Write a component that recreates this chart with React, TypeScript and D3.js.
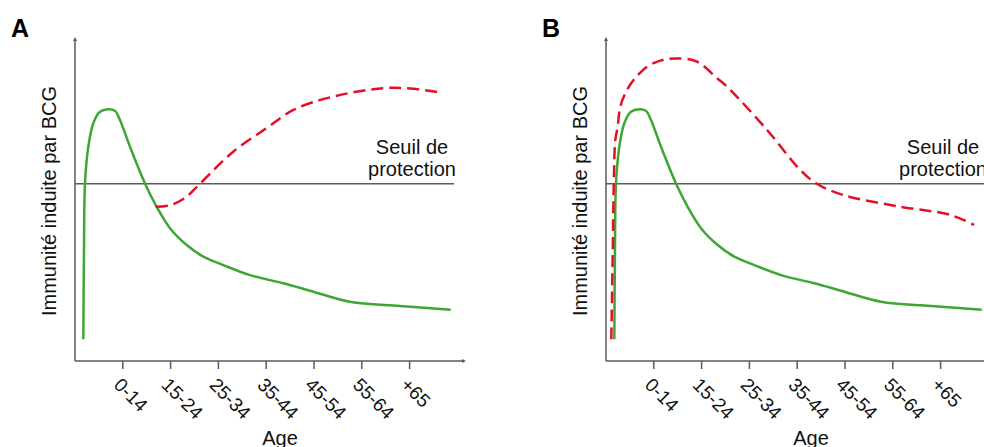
import React from "react";
import * as d3 from "d3";

const W = 984;
const H = 447;

const ageTicks = ["0-14", "15-24", "25-34", "35-44", "45-54", "55-64", "+65"];

// Shared green curve (same in both panels): [x in tick units, immunity 0-100]
const greenX = [0.174, 0.188, 0.209, 0.278, 0.383, 0.523, 0.697, 0.837, 0.941, 1.151, 1.464, 1.709, 1.987, 2.337, 2.684, 3.103, 3.661, 4.358, 4.916, 5.753, 6.8, 7.86];
const greenY = [6.7, 34.3, 54.8, 66.1, 73.4, 76.9, 77.7, 77.2, 74.4, 66.1, 54.8, 47.6, 41.0, 35.8, 32.2, 29.6, 26.5, 24.0, 21.7, 18.3, 17.0, 15.8];

// Panel A red dashed
const redAX = [1.69, 1.99, 2.3, 2.62, 3.31, 4.01, 4.57, 5.4, 6.45, 7.01, 7.64];
const redAY = [47.6, 48.1, 50.3, 54.8, 64.6, 71.9, 77.5, 81.6, 84.2, 84.1, 82.9];

// Panel B red dashed
const redBX = [0.111, 0.142, 0.163, 0.195, 0.243, 0.299, 0.404, 0.577, 0.858, 1.136, 1.485, 1.904, 2.322, 2.53, 3.37, 4.06, 4.41, 4.97, 6.16, 7.2, 7.7];
const redBY = [6.7, 34.3, 54.9, 68.2, 72.3, 78.5, 82.6, 86.7, 90.8, 92.7, 93.4, 92.4, 87.3, 84.7, 71.3, 59.0, 54.7, 51.2, 47.6, 45.1, 42.0];

const threshold = 54.7;

const FONT = "'Liberation Sans', Arial, sans-serif";
const AXIS = "#5a5a5a";
const GREEN = "#3fa535";
const RED = "#e30f24";

type P = [number, number];
const zip = (xs: number[], ys: number[]): P[] => xs.map((x, i) => [x, ys[i]]);

function Panel({ ox, letter, redX, redY }: { ox: number; letter: string; redX: number[]; redY: number[] }) {
  const x = d3.scaleLinear().domain([0, 8.18]).range([ox, ox + 391]);
  const y = d3.scaleLinear().domain([0, 100]).range([361, 37]);
  const line = d3
    .line<P>()
    .x((d) => x(d[0]))
    .y((d) => y(d[1]))
    .curve(d3.curveCatmullRom.alpha(0.5));
  const green = line(zip(greenX, greenY)) || "";
  const red = line(zip(redX, redY)) || "";
  const x0 = x(0);
  const y0 = y(0);
  const yt = y(threshold);
  return (
    <g>
      <text x={ox - 64} y={36.5} fontFamily={FONT} fontWeight="bold" fontSize={25} fill="#000">
        {letter}
      </text>
      {/* axes */}
      <line x1={x0} y1={y0} x2={x0} y2={y(100) + 3} stroke={AXIS} strokeWidth={1.5} />
      <path d={`M${x0 - 2},${y(100) + 4} L${x0},${y(100)} L${x0 + 2},${y(100) + 4} Z`} fill={AXIS} />
      <line x1={x0} y1={y0} x2={x(8.18) - 3} y2={y0} stroke={AXIS} strokeWidth={1.5} />
      <path d={`M${x(8.18) - 4},${y0 - 2} L${x(8.18)},${y0} L${x(8.18) - 4},${y0 + 2} Z`} fill={AXIS} />
      {ageTicks.map((t, i) => {
        const tx = x(i + 1);
        return (
          <g key={t}>
            <line x1={tx} y1={y0} x2={tx} y2={y0 + 8} stroke={AXIS} strokeWidth={1.5} />
            <text
              transform={`translate(${tx - 10},${y0 + 25}) rotate(45)`}
              fontFamily={FONT}
              fontSize={19}
              fill="#111"
              textAnchor="start"
            >
              {t}
            </text>
          </g>
        );
      })}
      <text x={x0 + 205} y={445} fontFamily={FONT} fontSize={20} fill="#111" textAnchor="middle">
        Age
      </text>
      <text
        transform={`translate(${ox - 19.5},${201}) rotate(-90)`}
        fontFamily={FONT}
        fontSize={20}
        fill="#111"
        textAnchor="middle"
      >
        Immunité induite par BCG
      </text>
      {/* threshold */}
      <line x1={x0} y1={yt} x2={ox + 379} y2={yt} stroke={AXIS} strokeWidth={1.5} />
      <text x={ox + 337} y={153.5} fontFamily={FONT} fontSize={20} fill="#111" textAnchor="middle">
        Seuil de
      </text>
      <text x={ox + 337} y={175.5} fontFamily={FONT} fontSize={20} fill="#111" textAnchor="middle">
        protection
      </text>
      <path d={green} fill="none" stroke={GREEN} strokeWidth={2.5} />
      <path d={red} fill="none" stroke={RED} strokeWidth={2.5} strokeDasharray="12,6" />
    </g>
  );
}

export default function App() {
  return (
    <svg
      width={W}
      height={H}
      viewBox={`0 0 ${W} ${H}`}
      style={{ position: "absolute", left: 0, top: 0, background: "#fff" }}
    >
      <rect width={W} height={H} fill="#fff" />
      <Panel ox={75} letter="A" redX={redAX} redY={redAY} />
      <Panel ox={606} letter="B" redX={redBX} redY={redBY} />
    </svg>
  );
}
